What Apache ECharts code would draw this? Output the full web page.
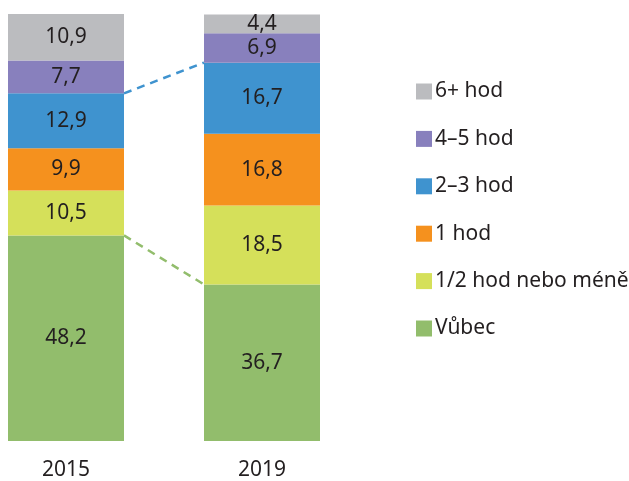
<!DOCTYPE html>
<html>
<head>
<meta charset="utf-8">
<script src="https://cdn.jsdelivr.net/npm/echarts@6/dist/echarts.min.js"></script>
<style>
  html, body { margin: 0; padding: 0; background: #fff; }
  #chart { width: 629px; height: 481px; }
</style>
</head>
<body>
<div id="chart"></div>
<script>
// data (bottom to top of each stack)
var years = ['2015', '2019'];
var groups = ['Vůbec', '1/2 hod nebo méně', '1 hod', '2–3 hod', '4–5 hod', '6+ hod'];
var vubec = [48.2, 36.7];
var pulHod = [10.5, 18.5];
var jednaHod = [9.9, 16.8];
var dveTriHod = [12.9, 16.7];
var ctyriPetHod = [7.7, 6.9];
var sestHod = [10.9, 4.4];

var values = [vubec, pulHod, jednaHod, dveTriHod, ctyriPetHod, sestHod];
var colors = ['#92bd6c', '#d5e05a', '#f5911e', '#3f93cf', '#8880bd', '#bbbcbf'];
var barW = 116;
var font = 'Noto Sans';

function cumTop(idx, yr) {
    var s = 0;
    for (var i = 0; i <= idx; i++) s += values[i][yr];
    return s;
}

var series = groups.map(function (name, i) {
    return {
        name: name,
        type: 'bar',
        stack: 'all',
        barWidth: barW,
        clip: false,
        itemStyle: { color: colors[i] },
        label: {
            show: true,
            position: 'inside',
            fontFamily: font,
            fontSize: 21,
            color: '#231f20',
            formatter: function (p) { return String(p.value).replace('.', ','); }
        },
        data: values[i]
    };
});

// dashed connectors: top of "Vůbec" and top of "2–3 hod"
var links = [
    { idx: 0, color: '#92bd6c' },
    { idx: 3, color: '#3f93cf' }
];
series.push({
    type: 'custom',
    silent: true,
    clip: false,
    z: 1,
    data: links.map(function (l) { return [0, cumTop(l.idx, 0), 1, cumTop(l.idx, 1)]; }),
    renderItem: function (params, api) {
        var a = api.coord([api.value(0), api.value(1)]);
        var b = api.coord([api.value(2), api.value(3)]);
        return {
            type: 'line',
            shape: { x1: a[0] + barW / 2, y1: a[1], x2: b[0] - barW / 2, y2: b[1] },
            style: {
                stroke: links[params.dataIndex].color,
                lineWidth: 2.5,
                lineDash: [8, 6]
            }
        };
    }
});

var chart = echarts.init(document.getElementById('chart'));
chart.setOption({
    animation: false,
    grid: { left: 66, right: 367, top: 14, bottom: 40 },
    legend: {
        orient: 'vertical',
        left: 411,
        top: 76,
        itemWidth: 16,
        itemHeight: 16,
        itemGap: 26.4,
        icon: 'rect',
        data: groups.slice().reverse(),
        textStyle: { fontFamily: font, fontSize: 21, color: '#231f20', padding: [0, 0, 0, -2] }
    },
    xAxis: {
        type: 'category',
        data: years,
        boundaryGap: false,
        axisLine: { show: false },
        axisTick: { show: false },
        axisLabel: { margin: 19, fontFamily: font, fontSize: 21, color: '#231f20' }
    },
    yAxis: {
        type: 'value',
        min: 0,
        max: 100.1,
        show: false,
        splitLine: { show: false }
    },
    series: series
});
</script>
</body>
</html>
